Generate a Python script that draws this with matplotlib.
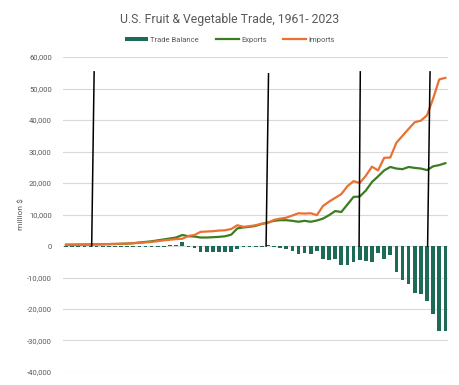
import matplotlib
matplotlib.use("Agg")
import matplotlib.pyplot as plt
from matplotlib.ticker import FuncFormatter, MultipleLocator
import numpy as np

# Data (million $), 1961-2023
years = list(range(1961, 2024))

exports = [400, 420, 440, 460, 480, 520, 560, 600, 650, 700,
           760, 900, 1100, 1300, 1500, 1800, 2100, 2400, 2700, 3500,
           3100, 3000, 2700, 2700, 2800, 2900, 3100, 3600, 5600, 5900,
           6100, 6400, 7000, 7500, 8000, 8200, 8200, 8000, 7700, 8000,
           7700, 8100, 8700, 9800, 11100, 10800, 13200, 15600, 15700, 17600,
           20300, 22100, 24000, 25100, 24600, 24400, 25100, 24800, 24600, 24100,
           25300, 25700, 26300]

imports = [420, 440, 460, 480, 500, 540, 580, 620, 660, 720,
           780, 900, 1000, 1150, 1300, 1550, 1800, 2000, 2200, 2300,
           3200, 3500, 4500, 4600, 4700, 4900, 5000, 5400, 6600, 6100,
           6300, 6600, 7100, 7300, 8300, 8700, 9000, 9700, 10400, 10300,
           10400, 9800, 12700, 14100, 15300, 16500, 19000, 20600, 20000, 22300,
           25200, 24000, 28000, 28100, 32800, 35000, 37200, 39300, 39800, 41500,
           46800, 52900, 53400]

balance = [-300, -300, -300, -300, -300, -300, -300, -300, -300, -300,
           -300, -300, -250, -250, -250, -250, -250, 300, 400, 1200,
           -200, -500, -1800, -1900, -1900, -2000, -1900, -1800, -1000, -300,
           -300, -300, -250, 300, -300, -500, -800, -1600, -2600, -2200,
           -2600, -1600, -4000, -4300, -4200, -5900, -5900, -5100, -4300, -4800,
           -5100, -2100, -4000, -3000, -8300, -10700, -12200, -14800, -15200, -17500,
           -21500, -27100, -27100]

# hand-drawn marker lines (category position at top / at bottom, top value)
mark_top_x = [4.6, 33.1, 48.1, 59.5]
mark_bot_x = [4.2, 32.7, 47.9, 59.1]
mark_top_y = [55300, 54700, 55300, 55300]

bar_color = '#1D6B56'
exp_color = '#3C7D22'
imp_color = '#E97132'
text_color = '#595959'

plt.rcParams['font.family'] = ['Roboto', 'DejaVu Sans']

fig = plt.figure(figsize=(4.6, 3.85), dpi=100)
ax = fig.add_axes([0.1368, 0.0338, 0.838, 0.818])

x = np.arange(len(years))
h_bar = ax.bar(x, balance, width=0.6, color=bar_color, label='Trade Balance', zorder=2)
h_exp, = ax.plot(x, exports, color=exp_color, lw=1.6, label='Exports', zorder=3)
h_imp, = ax.plot(x, imports, color=imp_color, lw=1.6, label='Imports', zorder=3)

for tx, bx, ty in zip(mark_top_x, mark_bot_x, mark_top_y):
    ax.plot([tx, bx], [ty, 0], color='black', lw=1.1, zorder=4)

ax.set_xlim(-0.5, len(years) - 0.5)
ax.set_ylim(-40000, 60000)
ax.yaxis.set_major_locator(MultipleLocator(10000))
ax.yaxis.set_major_formatter(FuncFormatter(lambda v, p: f'{int(v):,}'))
ax.grid(axis='y', color='#D9D9D9', lw=0.8, zorder=0)
ax.set_axisbelow(True)
ax.set_xticks([])
for s in ax.spines.values():
    s.set_visible(False)
ax.tick_params(axis='y', length=0, labelsize=5.5, labelcolor=text_color, pad=8)
ax.set_ylabel('million $', fontsize=6, color=text_color, labelpad=2)

fig.suptitle('U.S. Fruit & Vegetable Trade, 1961- 2023', fontsize=8.8,
             color=text_color, y=0.965)
fig.legend(handles=[h_bar, h_exp, h_imp], loc='center', bbox_to_anchor=(0.5, 0.897),
           ncol=3, frameon=False, fontsize=5.5, labelcolor=text_color,
           handlelength=3.0, handleheight=0.6, columnspacing=2.2, handletextpad=0.3)

fig.savefig('out.png', dpi=100)
